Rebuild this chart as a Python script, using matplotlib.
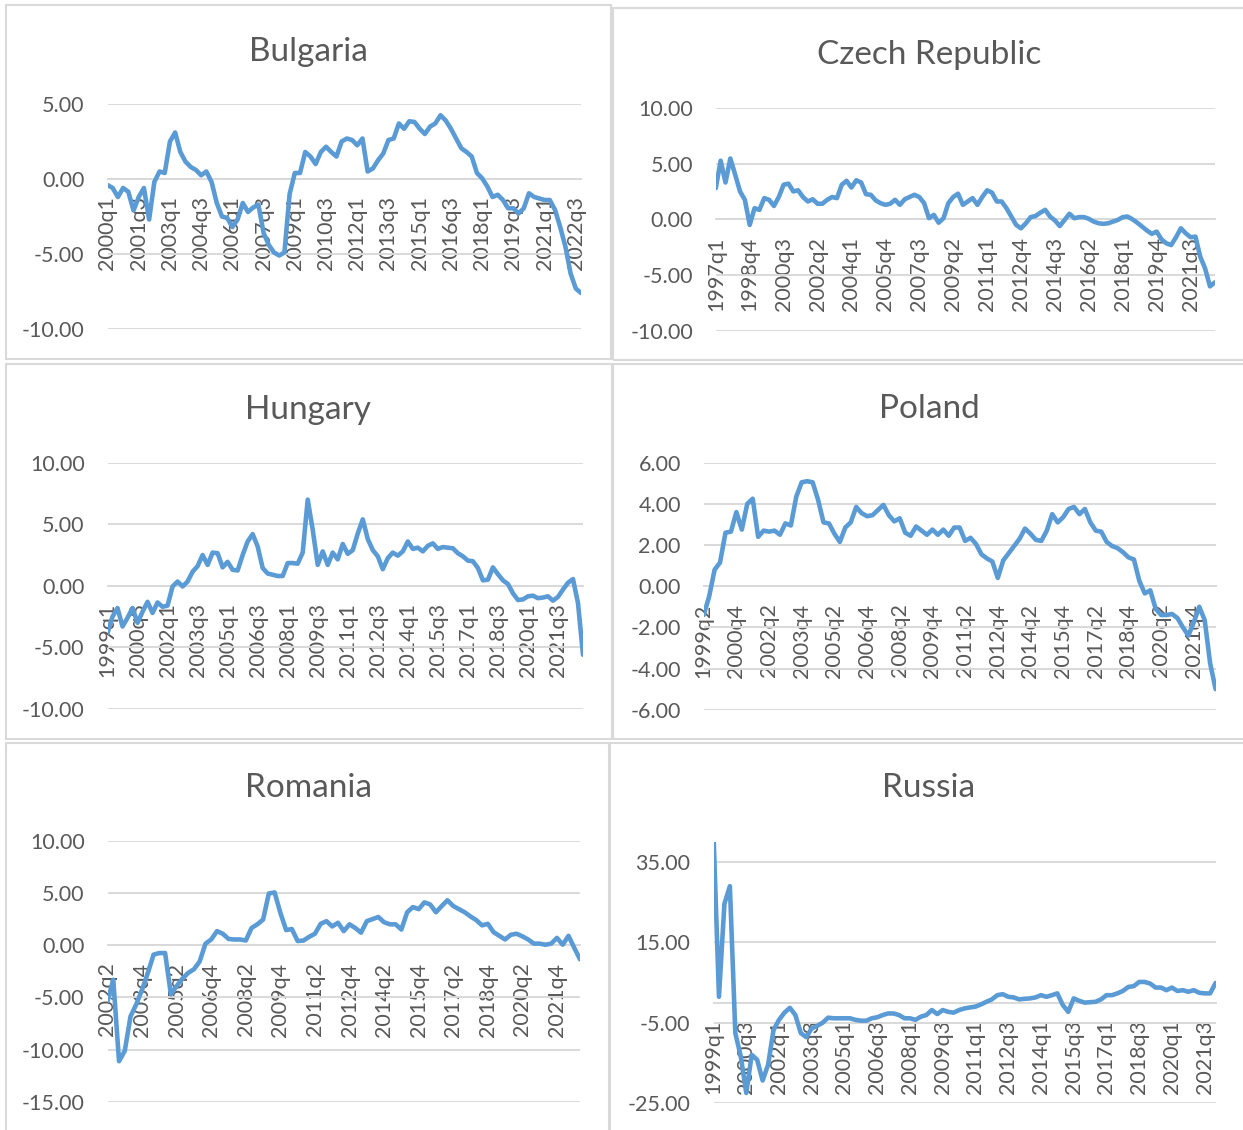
import numpy as np
import matplotlib.pyplot as plt
from matplotlib.patches import Rectangle
from matplotlib.ticker import FuncFormatter

plt.rcParams['font.family'] = 'Lato'

W, H = 1243, 1130

# quarterly values, one list per country
bulgaria = [-0.4, -0.6, -1.2, -0.6, -0.85, -2.1, -1.2, -0.6, -2.7, -0.2,
            0.5, 0.4, 2.5, 3.1, 1.8, 1.15, 0.8, 0.6, 0.25, 0.5,
            -0.2, -1.6, -2.5, -2.6, -3.2, -2.7, -1.6, -2.2, -1.9, -1.7,
            -3.6, -4.4, -4.9, -5.1, -4.9, -1.0, 0.4, 0.4, 1.8, 1.5,
            1.0, 1.8, 2.15, 1.8, 1.5, 2.5, 2.7, 2.6, 2.25, 2.7,
            0.5, 0.7, 1.25, 1.7, 2.6, 2.7, 3.7, 3.35, 3.85, 3.8,
            3.35, 3.0, 3.5, 3.7, 4.25, 3.9, 3.35, 2.7, 2.05, 1.8,
            1.5, 0.4, 0.05, -0.5, -1.2, -1.05, -1.4, -1.95, -1.95, -2.3,
            -1.95, -0.95, -1.2, -1.3, -1.4, -1.4, -2.05, -3.2, -4.5, -6.3,
            -7.3, -7.6]

czech = [2.8, 5.25, 3.3, 5.45, 4.0, 2.5, 1.75, -0.5, 1.0, 0.85,
         1.9, 1.75, 1.2, 2.0, 3.1, 3.2, 2.5, 2.6, 2.0, 1.6,
         1.8, 1.4, 1.4, 1.75, 2.0, 1.9, 3.1, 3.45, 2.85, 3.5,
         3.3, 2.25, 2.2, 1.7, 1.45, 1.3, 1.4, 1.75, 1.3, 1.8,
         2.0, 2.2, 2.0, 1.45, 0.1, 0.4, -0.3, 0.1, 1.45, 2.0,
         2.3, 1.3, 1.6, 1.9, 1.3, 2.0, 2.6, 2.4, 1.6, 1.6,
         1.0, 0.25, -0.5, -0.8, -0.35, 0.2, 0.3, 0.6, 0.85, 0.25,
         -0.1, -0.6, -0.05, 0.5, 0.1, 0.2, 0.2, 0.05, -0.2, -0.35,
         -0.4, -0.35, -0.2, -0.05, 0.2, 0.25, 0.0, -0.3, -0.65, -1.0,
         -1.3, -1.1, -1.8, -2.15, -2.3, -1.6, -0.8, -1.25, -1.6, -1.55,
         -3.35, -4.4, -6.0, -5.65]

hungary = [-3.85, -2.5, -1.8, -3.3, -2.6, -1.8, -3.0, -2.1, -1.3, -2.2,
           -1.35, -1.7, -1.6, -0.05, 0.35, -0.05, 0.35, 1.15, 1.6, 2.5,
           1.7, 2.7, 2.65, 1.5, 1.95, 1.3, 1.25, 2.5, 3.6, 4.2,
           3.2, 1.45, 1.0, 0.9, 0.8, 0.8, 1.85, 1.85, 1.8, 2.7,
           7.0, 4.55, 1.7, 2.8, 1.7, 2.7, 2.15, 3.4, 2.6, 2.9,
           4.25, 5.4, 3.8, 2.9, 2.4, 1.35, 2.25, 2.7, 2.45, 2.8,
           3.6, 3.0, 3.1, 2.8, 3.25, 3.45, 3.0, 3.15, 3.1, 3.05,
           2.65, 2.4, 2.05, 2.0, 1.45, 0.45, 0.5, 1.5, 0.95, 0.45,
           0.15, -0.6, -1.15, -1.1, -0.85, -0.8, -1.0, -0.95, -0.85, -1.2,
           -0.9, -0.3, 0.25, 0.55, -1.4, -5.6]

poland = [-1.4, -0.5, 0.8, 1.15, 2.6, 2.65, 3.6, 2.75, 4.0, 4.25,
          2.4, 2.7, 2.65, 2.7, 2.5, 3.05, 2.95, 4.35, 5.05, 5.1,
          5.05, 4.2, 3.1, 3.05, 2.55, 2.15, 2.85, 3.1, 3.85, 3.55,
          3.4, 3.45, 3.7, 3.95, 3.45, 3.15, 3.3, 2.6, 2.45, 2.9,
          2.7, 2.5, 2.75, 2.5, 2.75, 2.45, 2.85, 2.85, 2.2, 2.35,
          2.05, 1.55, 1.35, 1.2, 0.4, 1.25, 1.6, 1.95, 2.3, 2.8,
          2.55, 2.25, 2.2, 2.7, 3.5, 3.1, 3.35, 3.75, 3.85, 3.5,
          3.75, 3.1, 2.7, 2.65, 2.15, 1.95, 1.85, 1.65, 1.4, 1.3,
          0.25, -0.35, -0.2, -1.1, -1.4, -1.4, -1.35, -1.55, -2.0, -2.4,
          -1.75, -1.0, -1.65, -3.75, -5.0]

romania = [-5.35, -3.3, -11.1, -10.1, -6.8, -5.65, -4.25, -2.65, -0.9, -0.75,
           -0.75, -4.7, -3.9, -3.2, -2.65, -2.3, -1.55, 0.15, 0.55, 1.35,
           1.1, 0.6, 0.55, 0.55, 0.45, 1.65, 2.0, 2.45, 4.95, 5.05,
           3.1, 1.45, 1.55, 0.4, 0.45, 0.8, 1.1, 2.05, 2.3, 1.8,
           2.15, 1.35, 2.0, 1.65, 1.2, 2.3, 2.5, 2.7, 2.2, 2.0,
           2.0, 1.5, 3.15, 3.65, 3.45, 4.1, 3.9, 3.15, 3.75, 4.3,
           3.75, 3.45, 3.15, 2.75, 2.4, 1.9, 2.05, 1.25, 0.9, 0.55,
           1.0, 1.1, 0.85, 0.55, 0.15, 0.15, 0.05, 0.15, 0.7, 0.05,
           0.9, -0.25, -1.35]

russia = [42.0, 1.45, 24.6, 29.0, -7.6, -13.4, -22.5, -13.0, -14.25, -19.4,
          -15.5, -6.8, -4.3, -2.5, -1.3, -3.1, -7.6, -8.6, -6.4, -5.8,
          -5.0, -3.75, -3.9, -3.9, -3.9, -3.9, -4.3, -4.5, -4.5, -3.9,
          -3.65, -3.1, -2.7, -2.7, -3.1, -3.9, -3.9, -4.3, -3.5, -3.1,
          -1.85, -2.85, -1.85, -2.3, -2.5, -1.85, -1.45, -1.2, -1.0, -0.45,
          0.2, 0.8, 1.85, 2.1, 1.45, 1.3, 0.8, 0.95, 1.05, 1.3,
          1.85, 1.45, 1.85, 2.3, -0.6, -2.3, 1.05, 0.45, 0.0, 0.1,
          0.2, 0.8, 1.85, 1.85, 2.3, 2.9, 3.9, 4.1, 5.15, 5.15,
          4.75, 3.75, 3.75, 3.1, 3.75, 2.9, 3.1, 2.7, 3.1, 2.45,
          2.3, 2.3, 4.9]


def quarters(year, q, n):
    out = []
    for i in range(n):
        out.append(f'{year}q{q}')
        q += 1
        if q > 4:
            q = 1
            year += 1
    return out


# title, values, first quarter, label step, ylim, yticks,
# plot box (px), panel border (px), title centre x / baseline y (px)
panels = [
    ('Bulgaria', bulgaria, (2000, 1), 6, (-10, 5), [-10, -5, 0, 5],
     (107.5, 104, 581, 329), (6, 5, 611, 359), (308, 61)),
    ('Czech Republic', czech, (1997, 1), 7, (-10, 10), [-10, -5, 0, 5, 10],
     (715.8, 107.7, 1214.8, 331), (613, 8, 1250, 360), (929, 64)),
    ('Hungary', hungary, (1999, 1), 6, (-10, 10), [-10, -5, 0, 5, 10],
     (107.5, 462.7, 583, 709), (6, 364, 612, 739), (308, 419)),
    ('Poland', poland, (1999, 2), 6, (-6, 6), [-6, -4, -2, 0, 2, 4, 6],
     (703.7, 462.7, 1215.6, 709.7), (613, 364, 1250, 739), (929, 418)),
    ('Romania', romania, (2002, 2), 6, (-15, 10), [-15, -10, -5, 0, 5, 10],
     (107.5, 840.7, 580, 1102), (6, 743, 609, 1140), (308, 797)),
    ('Russia', russia, (1999, 1), 6, (-25, 40), [-25, -5, 15, 35],
     (713.5, 842, 1215.6, 1103), (610, 743, 1250, 1140), (929, 797)),
]

text_col = '#595959'
grid_col = '#D9D9D9'

fig = plt.figure(figsize=(W / 100, H / 100), dpi=100)

for title, vals, start, step, ylim, yticks, box, border, tpos in panels:
    bx0, by0, bx1, by1 = border
    fig.add_artist(Rectangle((bx0 / W, 1 - by1 / H), (bx1 - bx0) / W, (by1 - by0) / H,
                             transform=fig.transFigure, fill=False,
                             ec=grid_col, lw=1.5))

    x0, y0, x1, y1 = box
    ax = fig.add_axes([x0 / W, 1 - y1 / H, (x1 - x0) / W, (y1 - y0) / H])
    ax.patch.set_alpha(0)
    # the category axis crosses at zero, as in the spreadsheet
    for s in ['top', 'right', 'left']:
        ax.spines[s].set_visible(False)
    ax.spines['bottom'].set_position(('data', 0))
    ax.spines['bottom'].set_color(grid_col)
    ax.spines['bottom'].set_linewidth(1.4)

    n = len(vals)
    cats = quarters(start[0], start[1], n)
    ax.plot(np.arange(n), vals, color='#5B9BD5', lw=3.3, zorder=3,
            solid_joinstyle='round', solid_capstyle='round')
    ax.set_xlim(0, n - 1)
    ax.set_ylim(*ylim)
    ax.set_yticks(yticks)
    ax.yaxis.set_major_formatter(FuncFormatter(lambda v, p: f'{v:.2f}'))
    pos = list(range(0, n, step))
    ax.set_xticks(pos)
    ax.set_xticklabels([cats[i] for i in pos])

    ax.set_axisbelow(True)
    ax.grid(axis='y', color=grid_col, lw=1.4)
    ax.tick_params(axis='x', length=0, pad=12.5, labelsize=15.5,
                   labelcolor=text_col, labelrotation=90)
    ax.tick_params(axis='y', length=0, pad=16.5, labelsize=15.5, labelcolor=text_col)

    fig.text(tpos[0] / W, 1 - tpos[1] / H, title, ha='center', va='baseline',
             fontsize=24, color=text_col)

plt.savefig('out.png', dpi=100)
